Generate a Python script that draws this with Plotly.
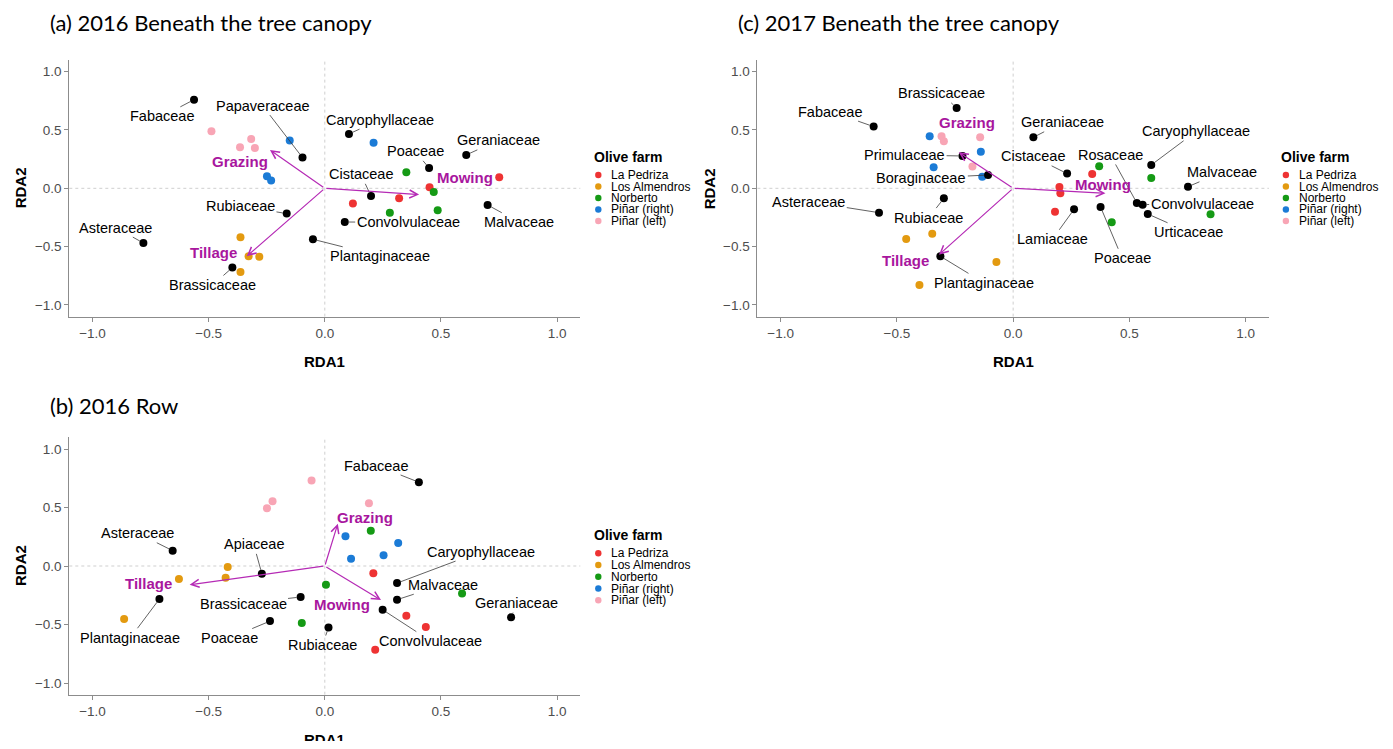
import plotly.graph_objects as go

# ---------------- data ----------------
farms = ["La Pedriza", "Los Almendros", "Norberto", "Piñar (right)", "Piñar (left)"]
farm_colors = ["#EE3333", "#E39A10", "#159A15", "#1B7BD6", "#F8A5B5"]

# (a) 2016 beneath the tree canopy
a_species = ["Fabaceae", "Papaveraceae", "Caryophyllaceae", "Poaceae", "Geraniaceae", "Cistaceae",
             "Malvaceae", "Convolvulaceae", "Rubiaceae", "Plantaginaceae", "Asteraceae", "Brassicaceae"]
a_sp_x = [-0.563, -0.096, 0.104, 0.449, 0.609, 0.199, 0.701, 0.086, -0.164, -0.051, -0.781, -0.398]
a_sp_y = [0.76, 0.263, 0.466, 0.174, 0.286, -0.066, -0.143, -0.289, -0.217, -0.437, -0.469, -0.68]
a_lab_x = [-0.70, -0.268, 0.239, 0.389, 0.746, 0.155, 0.837, 0.359, -0.363, 0.239, -0.9, -0.483]
a_lab_y = [0.617, 0.709, 0.589, 0.317, 0.411, 0.12, -0.291, -0.291, -0.151, -0.583, -0.337, -0.829]
a_farm_x = [[0.751, 0.451, 0.32, 0.121], [-0.363, -0.328, -0.282, -0.363], [0.351, 0.469, 0.28, 0.486],
            [-0.151, 0.21, -0.249, -0.231], [-0.488, -0.317, -0.365, -0.301]]
a_farm_y = [[0.094, 0.009, -0.086, -0.131], [-0.42, -0.583, -0.586, -0.717], [0.137, -0.031, -0.209, -0.189],
            [0.409, 0.391, 0.103, 0.066], [0.489, 0.423, 0.351, 0.346]]
a_env = ["Grazing", "Mowing", "Tillage"]
a_env_x = [-0.236, 0.406, -0.336]
a_env_y = [0.329, -0.054, -0.583]
a_env_lx = [-0.363, 0.602, -0.478]
a_env_ly = [0.229, 0.094, -0.549]

# (c) 2017 beneath the tree canopy
c_species = ["Brassicaceae", "Fabaceae", "Geraniaceae", "Caryophyllaceae", "Primulaceae", "Boraginaceae",
             "Cistaceae", "Rosaceae", "Convolvulaceae", "Malvaceae", "Asteraceae", "Rubiaceae", "Lamiaceae",
             "Poaceae", "Urticaceae", "Plantaginaceae"]
c_sp_x = [-0.243, -0.6, 0.087, 0.594, -0.218, -0.108, 0.232, 0.532, 0.557, 0.752, -0.577, -0.298, 0.262,
          0.376, 0.579, -0.313]
c_sp_y = [0.689, 0.529, 0.437, 0.2, 0.277, 0.114, 0.126, -0.126, -0.14, 0.014, -0.209, -0.086, -0.18,
          -0.16, -0.22, -0.583]
c_lab_x = [-0.31, -0.784, 0.213, 0.788, -0.467, -0.395, 0.084, 0.418, 0.813, 0.898, -0.879, -0.363, 0.169,
           0.469, 0.756, -0.125]
c_lab_y = [0.814, 0.657, 0.566, 0.489, 0.286, 0.086, 0.274, 0.286, -0.131, 0.137, -0.114, -0.251, -0.437,
           -0.6, -0.377, -0.811]
c_farm_x = [[0.199, 0.203, 0.34, 0.18], [-0.46, -0.348, -0.072, -0.403], [0.37, 0.594, 0.849, 0.424],
            [-0.359, -0.139, -0.342, -0.133], [-0.308, -0.298, -0.142, -0.175]]
c_farm_y = [[0.011, -0.043, 0.123, -0.2], [-0.434, -0.389, -0.631, -0.829], [0.189, 0.089, -0.223, -0.291],
            [0.446, 0.314, 0.18, 0.1], [0.446, 0.403, 0.437, 0.186]]
c_env = ["Grazing", "Mowing", "Tillage"]
c_env_x = [-0.234, 0.397, -0.319]
c_env_y = [0.309, -0.043, -0.569]
c_env_lx = [-0.198, 0.386, -0.462]
c_env_ly = [0.56, 0.034, -0.623]

# (b) 2016 row
b_species = ["Fabaceae", "Asteraceae", "Apiaceae", "Caryophyllaceae", "Malvaceae", "Geraniaceae",
             "Plantaginaceae", "Brassicaceae", "Poaceae", "Rubiaceae", "Convolvulaceae"]
b_sp_x = [0.405, -0.655, -0.271, 0.311, 0.311, 0.802, -0.712, -0.104, -0.236, 0.016, 0.249]
b_sp_y = [0.716, 0.131, -0.066, -0.146, -0.288, -0.439, -0.282, -0.265, -0.471, -0.525, -0.374]
b_lab_x = [0.223, -0.805, -0.306, 0.672, 0.508, 0.827, -0.837, -0.352, -0.41, -0.01, 0.457]
b_lab_y = [0.859, 0.28, 0.185, 0.123, -0.16, -0.317, -0.613, -0.322, -0.616, -0.676, -0.642]
b_farm_x = [[0.209, 0.351, 0.435, 0.217], [-0.418, -0.427, -0.628, -0.864], [0.198, 0.005, 0.591, -0.099],
            [0.089, 0.316, 0.113, 0.253], [-0.057, -0.225, -0.249, 0.19]]
b_farm_y = [[-0.063, -0.425, -0.522, -0.716], [-0.009, -0.1, -0.111, -0.454], [0.302, -0.16, -0.234, -0.488],
            [0.254, 0.197, 0.063, 0.091], [0.73, 0.553, 0.494, 0.536]]
b_env = ["Grazing", "Mowing", "Tillage"]
b_env_x = [0.056, 0.242, -0.582]
b_env_y = [0.362, -0.291, -0.16]
b_env_lx = [0.171, 0.075, -0.759]
b_env_ly = [0.417, -0.325, -0.148]

tick_vals = [-1.0, -0.5, 0.0, 0.5, 1.0]
tick_text = ["\u22121.0", "\u22120.5", "0.0", "0.5", "1.0"]

# ---------------- layout helpers (page pixels -> paper) ----------------
OFF = 8
W, H = 1377, 733


def fx(p):
    return (p - OFF) / W


def fy(p):
    return 1 - (p - OFF) / H


SANS = "Liberation Sans, Arial, sans-serif"
MAG_TXT = "#A8169E"
MAG_LINE = "#B52AB5"

fig = go.Figure()

panels = [
    # axis suffix, x-domain px, y-domain px (top,bottom), data, title, title pos, legend pos, axis title pos
    dict(ax="", xd=(69.3, 580.3), yd=(60.0, 316.6), species=a_species, sx=a_sp_x, sy=a_sp_y,
         lx=a_lab_x, ly=a_lab_y, fxs=a_farm_x, fys=a_farm_y, env=a_env, ex=a_env_x, ey=a_env_y,
         elx=a_env_lx, ely=a_env_ly, title="(a) 2016 Beneath the tree canopy", tpos=(48, 22.7),
         leg=(591.7, 156.7, 175.0, 11.5), rda1=(324.8, 361.7), rda2=(20, 188.3)),
    dict(ax="2", xd=(757.4, 1268.9), yd=(60.0, 316.6), species=c_species, sx=c_sp_x, sy=c_sp_y,
         lx=c_lab_x, ly=c_lab_y, fxs=c_farm_x, fys=c_farm_y, env=c_env, ex=c_env_x, ey=c_env_y,
         elx=c_env_lx, ely=c_env_ly, title="(c) 2017 Beneath the tree canopy", tpos=(736, 22.7),
         leg=(1279.3, 156.7, 175.0, 11.5), rda1=(1013.1, 361.7), rda2=(709, 188.3)),
    dict(ax="3", xd=(69.3, 580.3), yd=(437.3, 694.7), species=b_species, sx=b_sp_x, sy=b_sp_y,
         lx=b_lab_x, ly=b_lab_y, fxs=b_farm_x, fys=b_farm_y, env=b_env, ex=b_env_x, ey=b_env_y,
         elx=b_env_lx, ely=b_env_ly, title="(b) 2016 Row", tpos=(48, 405),
         leg=(591.7, 535.0, 553.3, 11.75), rda1=(324.8, 739.4), rda2=(20, 566)),
]

annotations = []
shapes = []
layout_axes = {}

for p in panels:
    xa = "x" + p["ax"]
    ya = "y" + p["ax"]
    xname = "xaxis" + p["ax"]
    yname = "yaxis" + p["ax"]
    common = dict(range=[-1.1, 1.1], tickvals=tick_vals, ticktext=tick_text, showgrid=False,
                  zeroline=False, showline=True, linecolor="#8C8C8C", linewidth=1, ticks="outside",
                  ticklen=4, tickcolor="#8C8C8C", tickwidth=1,
                  tickfont=dict(family=SANS, size=13.5, color="#4D4D4D"), automargin=False, fixedrange=True)
    layout_axes[xname] = dict(domain=[fx(p["xd"][0]), fx(p["xd"][1])], anchor=ya, **common)
    layout_axes[yname] = dict(domain=[fy(p["yd"][1]), fy(p["yd"][0])], anchor=xa, **common)

    # dotted zero lines
    shapes.append(dict(type="line", xref=xa, yref=ya + " domain", x0=0, x1=0, y0=0, y1=1,
                       line=dict(color="#CFCFCF", width=1, dash="dot"), layer="below"))
    shapes.append(dict(type="line", xref=xa + " domain", yref=ya, x0=0, x1=1, y0=0, y1=0,
                       line=dict(color="#CFCFCF", width=1, dash="dot"), layer="below"))

    # farm sites
    for i, farm in enumerate(farms):
        fig.add_trace(go.Scatter(x=p["fxs"][i], y=p["fys"][i], mode="markers", xaxis=xa, yaxis=ya,
                                 marker=dict(color=farm_colors[i], size=8, line=dict(width=0)),
                                 name=farm, showlegend=False, hoverinfo="skip"))
    # species points
    fig.add_trace(go.Scatter(x=p["sx"], y=p["sy"], mode="markers", xaxis=xa, yaxis=ya,
                             marker=dict(color="black", size=8, line=dict(width=0)),
                             showlegend=False, hoverinfo="skip"))
    # species labels with repel-like segments
    for name, px_, py_, lx_, ly_ in zip(p["species"], p["sx"], p["sy"], p["lx"], p["ly"]):
        annotations.append(dict(x=px_, y=py_, xref=xa, yref=ya, ax=lx_, ay=ly_, axref=xa, ayref=ya,
                                text=name, showarrow=True, arrowhead=0, arrowwidth=0.8,
                                arrowcolor="#3A3A3A", standoff=4, borderpad=1,
                                font=dict(family=SANS, size=14.5, color="black")))
    # environmental arrows
    for name, ex_, ey_, lx_, ly_ in zip(p["env"], p["ex"], p["ey"], p["elx"], p["ely"]):
        annotations.append(dict(x=ex_, y=ey_, xref=xa, yref=ya, ax=0, ay=0, axref=xa, ayref=ya,
                                text="", showarrow=True, arrowhead=5, arrowsize=1.3, arrowwidth=1.2,
                                arrowcolor=MAG_LINE, standoff=0, startstandoff=0))
        annotations.append(dict(x=lx_, y=ly_, xref=xa, yref=ya, text="<b>%s</b>" % name, showarrow=False,
                                font=dict(family=SANS, size=15, color=MAG_TXT)))

    # panel title
    annotations.append(dict(x=fx(p["tpos"][0]), y=fy(p["tpos"][1]), xref="paper", yref="paper",
                            xanchor="left", yanchor="middle", text=p["title"], showarrow=False,
                            font=dict(family="Lato, Open Sans, sans-serif", size=22, color="black")))
    # axis titles
    annotations.append(dict(x=fx(p["rda1"][0]), y=fy(p["rda1"][1]), xref="paper", yref="paper",
                            xanchor="center", yanchor="middle", text="<b>RDA1</b>", showarrow=False,
                            font=dict(family=SANS, size=15, color="black")))
    annotations.append(dict(x=fx(p["rda2"][0]), y=fy(p["rda2"][1]), xref="paper", yref="paper",
                            xanchor="center", yanchor="middle", text="<b>RDA2</b>", showarrow=False,
                            textangle=-90, font=dict(family=SANS, size=15, color="black")))

    # legend
    lgx, lgt, lg0, lgs = p["leg"]
    annotations.append(dict(x=fx(lgx), y=fy(lgt), xref="paper", yref="paper", xanchor="left",
                            yanchor="middle", text="<b>Olive farm</b>", showarrow=False,
                            font=dict(family=SANS, size=14, color="black")))
    for i, farm in enumerate(farms):
        cy = lg0 + i * lgs
        cx = lgx + 6.6
        r = 3.2
        shapes.append(dict(type="circle", xref="paper", yref="paper", x0=fx(cx - r), x1=fx(cx + r),
                           y0=fy(cy + r), y1=fy(cy - r), fillcolor=farm_colors[i],
                           line=dict(width=0)))
        annotations.append(dict(x=fx(lgx + 17.6), y=fy(cy), xref="paper", yref="paper", xanchor="left",
                                yanchor="middle", text=farm, showarrow=False,
                                font=dict(family=SANS, size=12, color="black")))

fig.update_layout(
    width=W, height=H, autosize=False,
    margin=dict(l=0, r=0, t=0, b=0, pad=0),
    paper_bgcolor="white", plot_bgcolor="white",
    showlegend=False,
    annotations=annotations, shapes=shapes,
    **layout_axes,
)

fig.write_html("out.html")
